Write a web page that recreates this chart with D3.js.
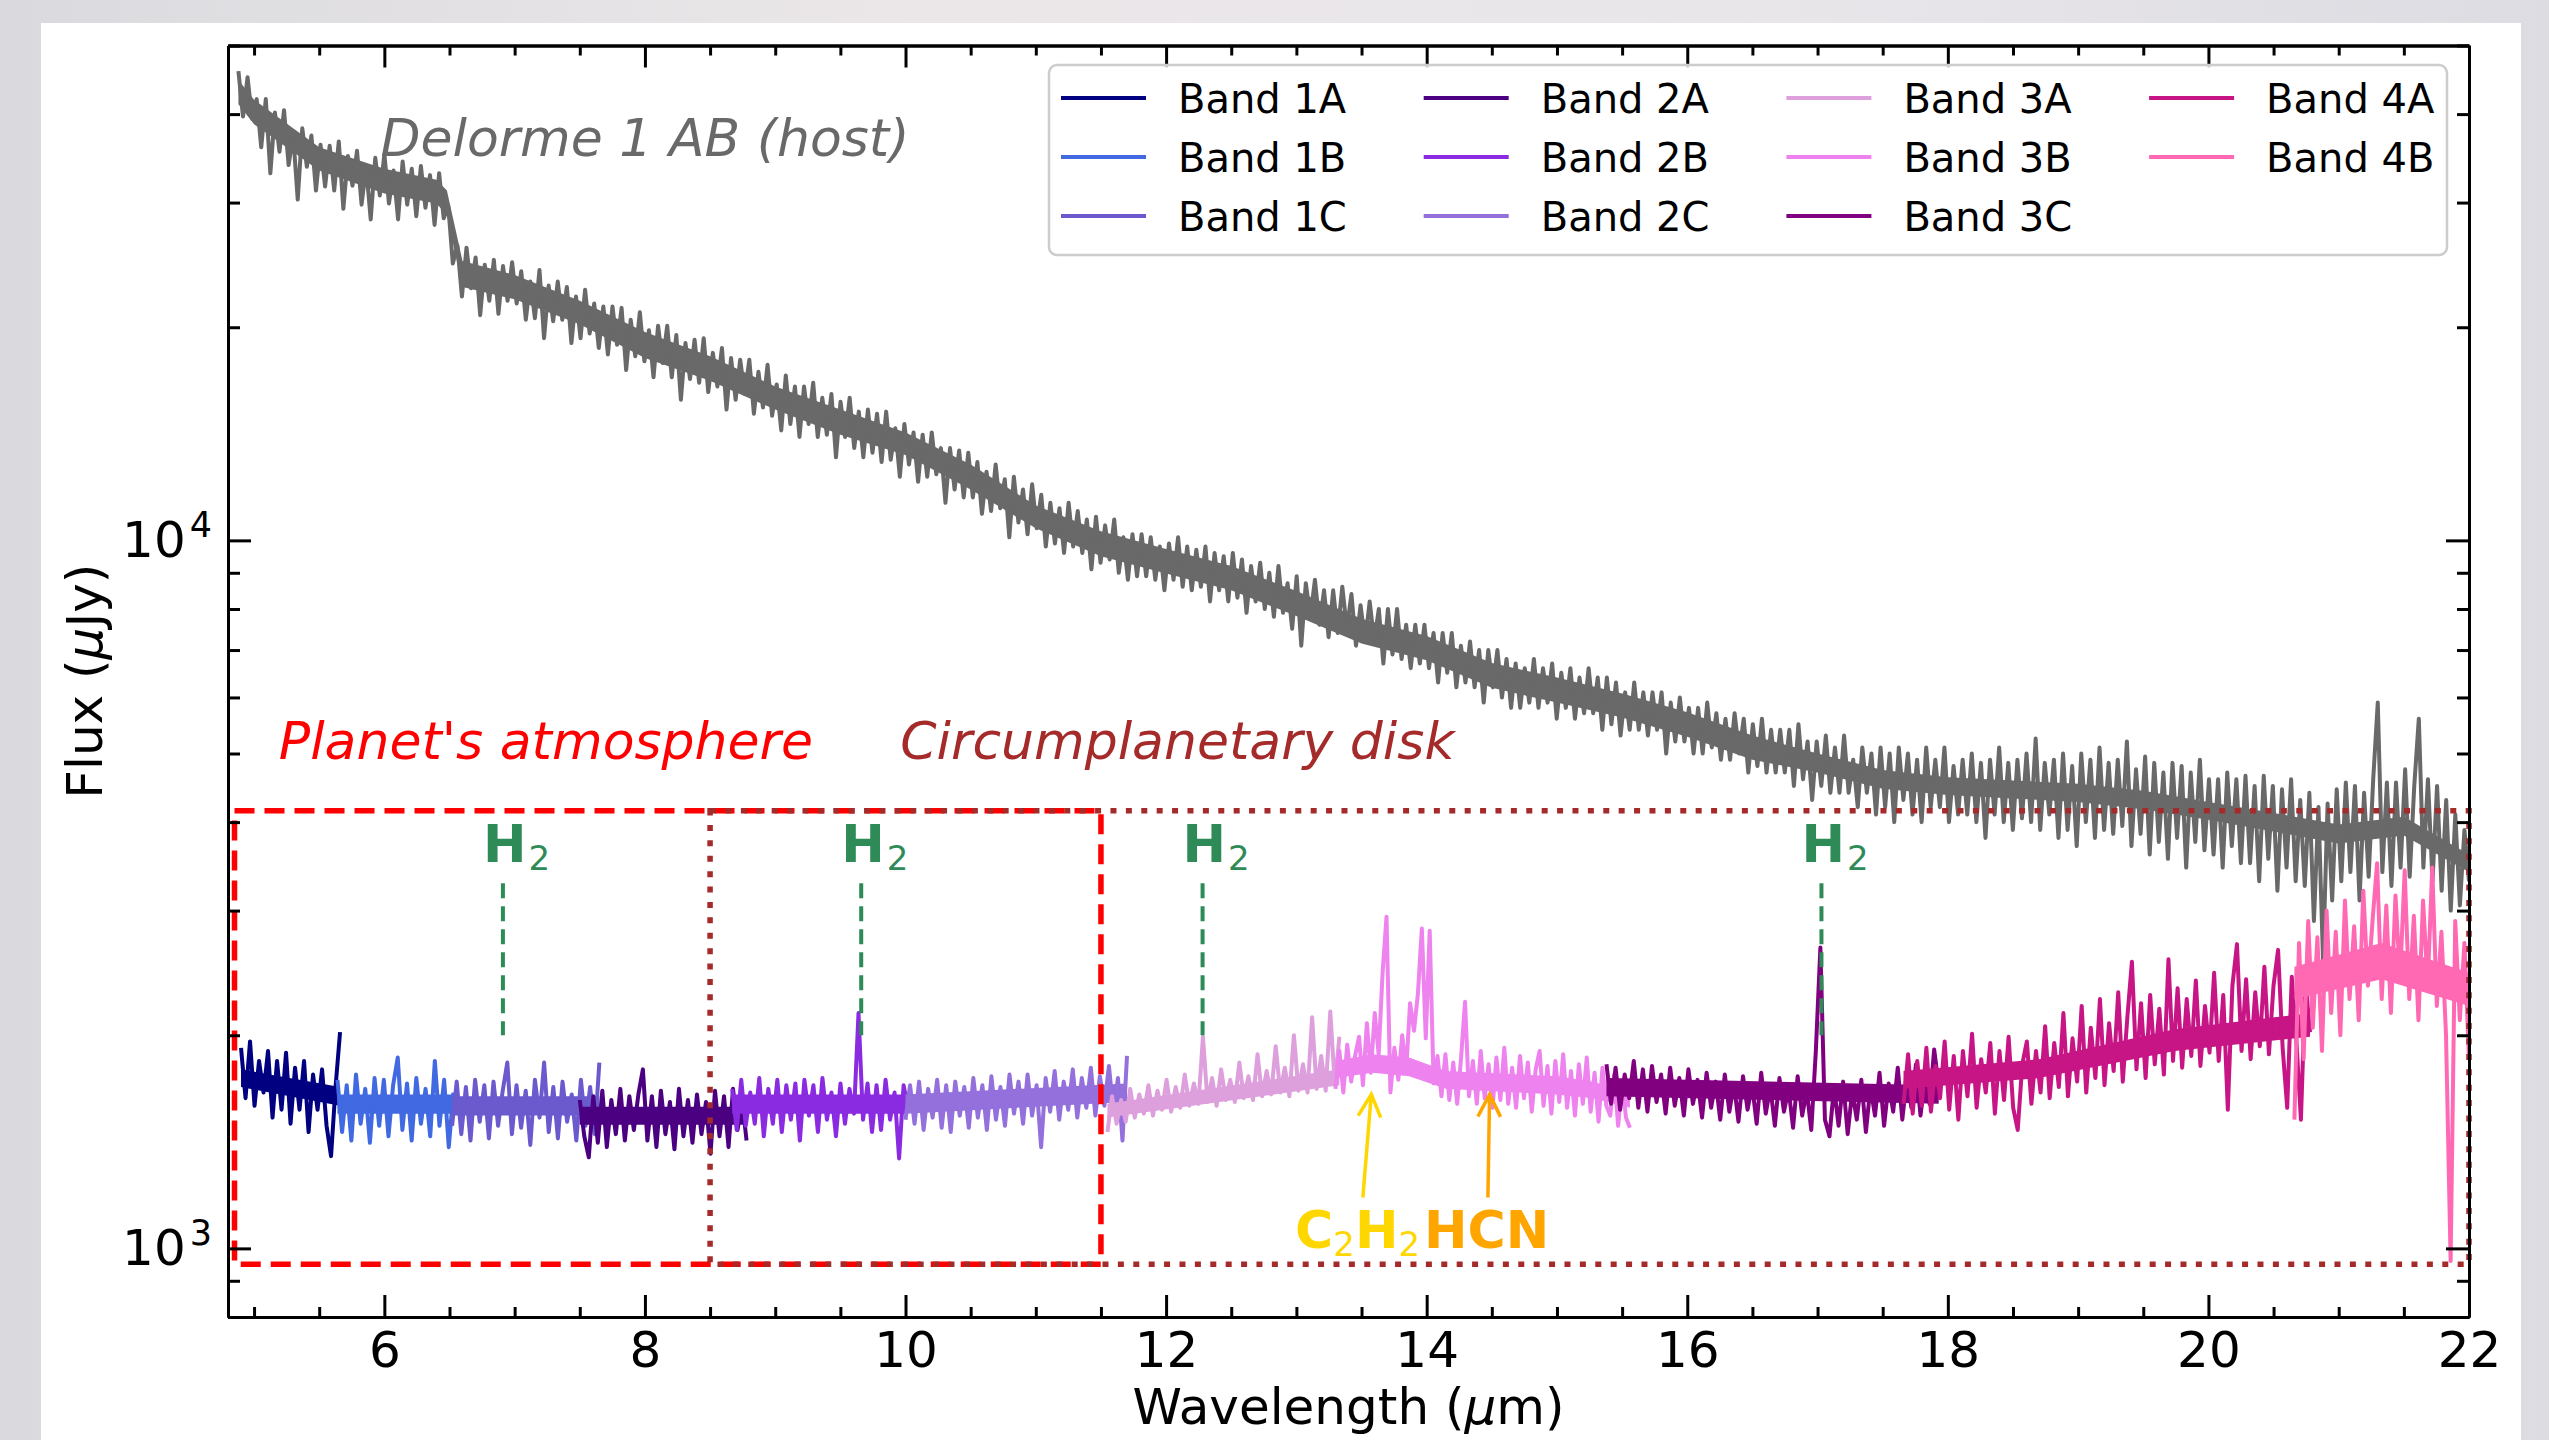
<!DOCTYPE html>
<html>
<head>
<meta charset="utf-8">
<script src="https://cdn.jsdelivr.net/npm/d3@7"></script>
<style>
  body { margin: 0; background: linear-gradient(90deg, #dadade 0%, #ebe7e9 35%, #e9e6ea 70%, #dcdce2 100%); }
  svg { display: block; }
</style>
</head>
<body>
<div id="chart"></div>
<script>

// ---- data ----

// host spectrum, Delorme 1 AB, in mJy, evenly spaced from 4.88 to 22.0 um
const HOST_RANGE = [4.88, 22.0];
const HOST_FLUX_MJY = [
  46.0, 39.7, 45.1, 39.4, 42.0, 35.9, 42.0, 33.0, 40.2, 35.4, 40.5, 33.9, 37.4, 30.3, 38.2, 33.7, 37.3, 31.2, 36.2, 31.6,
  36.1, 31.2, 36.6, 29.4, 34.9, 31.7, 35.5, 29.8, 33.7, 28.4, 34.7, 30.7, 35.1, 29.9, 33.3, 28.4, 34.3, 29.8, 33.5, 28.7,
  33.8, 29.5, 32.8, 27.9, 33.0, 28.5, 29.7, 24.6, 26.1, 22.1, 25.9, 22.7, 25.1, 20.8, 24.5, 21.8, 24.9, 20.9, 24.4, 21.8,
  24.7, 21.6, 24.0, 20.5, 23.2, 20.6, 24.1, 19.3, 22.9, 20.4, 23.2, 20.5, 22.8, 19.0, 22.1, 19.3, 22.6, 19.6, 21.6, 18.7,
  21.4, 18.3, 21.4, 18.9, 21.3, 17.4, 20.5, 18.2, 21.0, 17.9, 19.8, 17.0, 20.1, 17.8, 20.1, 17.0, 19.5, 15.8, 19.0, 16.9,
  19.2, 16.7, 19.3, 16.2, 18.4, 16.5, 18.7, 15.3, 18.1, 15.8, 18.0, 16.1, 18.0, 15.1, 17.3, 15.4, 17.7, 15.0, 16.6, 14.3,
  17.1, 14.6, 16.5, 14.0, 16.5, 14.6, 16.7, 14.0, 15.9, 14.1, 16.1, 13.1, 15.7, 14.0, 15.9, 13.5, 15.2, 13.1, 15.3, 13.3,
  15.1, 12.9, 15.2, 13.0, 14.4, 12.3, 14.6, 12.8, 14.2, 12.1, 14.1, 12.3, 14.2, 12.4, 13.5, 11.3, 13.5, 11.8, 13.4, 11.5,
  13.3, 11.5, 12.9, 10.9, 12.5, 11.0, 12.8, 11.1, 12.2, 10.1, 12.3, 10.6, 11.8, 10.2, 12.0, 10.4, 11.6, 9.8, 11.3, 9.9,
  11.1, 9.6, 11.3, 9.8, 11.0, 9.6, 10.7, 9.1, 10.8, 9.3, 10.5, 9.4, 10.7, 9.0, 10.1, 8.8, 10.2, 8.9, 10.2, 8.9,
  10.1, 8.8, 9.8, 8.5, 9.9, 8.8, 10.1, 8.6, 9.8, 8.5, 9.7, 8.6, 9.8, 8.2, 9.6, 8.5, 9.5, 8.2, 9.6, 8.3,
  9.4, 7.9, 9.2, 8.2, 9.3, 8.0, 9.0, 7.8, 9.2, 7.9, 8.7, 7.5, 8.9, 7.1, 8.7, 7.8, 8.8, 7.6, 8.5, 7.3,
  8.5, 7.4, 8.6, 7.5, 8.4, 7.1, 8.1, 7.2, 8.2, 7.2, 8.0, 6.7, 8.0, 6.9, 8.0, 6.8, 7.6, 6.6, 7.6, 6.7,
  7.6, 6.6, 7.4, 6.3, 7.4, 6.5, 7.4, 6.2, 7.1, 6.3, 7.2, 6.2, 7.0, 5.9, 7.0, 6.2, 7.0, 6.0, 6.8, 5.8,
  6.7, 5.8, 6.6, 5.9, 6.8, 5.8, 6.6, 5.9, 6.7, 5.6, 6.5, 5.8, 6.6, 5.6, 6.4, 5.7, 6.6, 5.7, 6.4, 5.4,
  6.4, 5.5, 6.3, 5.3, 6.1, 5.4, 6.3, 5.4, 6.1, 5.3, 6.1, 5.4, 6.1, 5.0, 5.9, 5.2, 6.0, 5.2, 5.8, 5.0,
  5.8, 5.0, 5.9, 5.1, 5.7, 4.9, 5.6, 4.9, 5.7, 5.0, 5.6, 4.7, 5.5, 4.8, 5.6, 4.7, 5.4, 4.7, 5.4, 4.7,
  5.4, 4.5, 5.5, 4.6, 5.2, 4.3, 5.2, 4.5, 5.3, 4.4, 5.1, 4.4, 5.3, 4.4, 4.9, 4.2, 5.1, 4.4, 5.0, 4.1,
  5.1, 4.2, 5.0, 4.0, 5.1, 4.3, 5.0, 4.1, 4.9, 4.0, 5.1, 4.2, 4.9, 4.2, 5.1, 4.0, 4.8, 4.1, 4.9, 4.1,
  5.0, 4.0, 4.85, 3.8, 4.9, 4.1, 5.1, 4.0, 4.85, 3.9, 4.9, 4.05, 5.0, 4.0, 5.25, 3.9, 4.85, 4.1, 4.9, 3.8,
  5.0, 3.9, 4.8, 3.7, 5.0, 4.0, 4.9, 3.8, 5.1, 3.9, 4.85, 3.85, 4.9, 3.95, 5.2, 3.7, 4.75, 3.85, 4.95, 3.6,
  4.85, 3.75, 4.7, 3.55, 4.85, 3.8, 4.8, 3.45, 4.7, 3.75, 4.9, 3.65, 4.6, 3.6, 4.6, 3.45, 4.7, 3.7, 4.6, 3.5,
  4.65, 3.5, 4.5, 3.3, 4.65, 3.55, 4.5, 3.2, 4.45, 3.45, 4.6, 3.3, 4.3, 3.25, 4.4, 2.9, 4.2, 2.55, 4.25, 3.1,
  4.45, 3.3, 4.55, 3.4, 4.5, 3.1, 4.4, 3.35, 4.6, 5.9, 3.4, 4.55, 3.25, 4.55, 3.45, 4.75, 3.35, 4.5, 5.6, 3.45,
  4.6, 3.3, 4.5, 3.2, 4.3, 3.0, 4.1, 3.05, 3.9, 3.3
];

// solid core of the host noise band (mJy), edges
const HOST_CORE_WAVE = [4.88, 5.0, 5.5, 6.0, 6.4, 6.48, 6.6, 7.0, 7.5, 8.0, 8.5, 9.0, 9.5, 10.0, 10.5, 11.0, 11.5, 12.0,
                        12.5, 13.0, 13.5, 14.0, 14.5, 15.0, 15.5, 16.0, 16.5, 17.0, 17.5, 18.0, 18.5, 19.0, 19.5, 20.0,
                        20.5, 21.0, 21.5, 22.0];
const HOST_CORE_LO = [41.3, 38.7, 33.3, 30.9, 29.9, 28.8, 22.8, 21.9, 20.2, 18.1, 16.8, 15.3, 14.1, 13.2, 11.8, 10.4, 9.5,
                      8.98, 8.5, 7.82, 7.15, 6.77, 6.19, 5.9, 5.62, 5.28, 4.9, 4.7, 4.46, 4.37, 4.32, 4.27, 4.17, 4.03,
                      3.88, 3.73, 3.83, 3.4];
const HOST_CORE_HI = [44.7, 41.9, 35.9, 33.5, 32.3, 31.2, 24.8, 23.7, 21.8, 19.7, 18.2, 16.5, 15.3, 14.2, 12.8, 11.2, 10.3,
                      9.72, 9.2, 8.48, 7.75, 7.33, 6.71, 6.4, 6.08, 5.72, 5.3, 5.0, 4.74, 4.63, 4.58, 4.53, 4.43, 4.27,
                      4.12, 3.97, 4.07, 3.6];

// planet spectrum, one array per MIRI band, in uJy
const BAND_NAMES = ["Band 1A", "Band 1B", "Band 1C", "Band 2A", "Band 2B", "Band 2C",
                    "Band 3A", "Band 3B", "Band 3C", "Band 4A", "Band 4B"];
const BAND_COLORS = ["navy", "royalblue", "slateblue", "indigo", "blueviolet", "mediumpurple",
                     "plum", "violet", "purple", "mediumvioletred", "hotpink"];
const BAND_RANGES = [[4.90, 5.66], [5.64, 6.53], [6.52, 7.65], [7.50, 8.78], [8.67, 10.02], [10.00, 11.70],
                     [11.55, 13.33], [13.30, 15.56], [15.38, 17.93], [17.66, 20.78], [20.66, 22.00]];

const BAND_1A = [1920, 1630, 1960, 1590, 1840, 1660, 1900, 1530, 1840, 1570, 1890, 1500, 1800, 1570, 1840, 1460, 1760, 1570,
                 1790, 1490, 1350, 1690, 2020];
const BAND_1B = [1730, 1460, 1700, 1420, 1760, 1500, 1680, 1410, 1740, 1490, 1730, 1440, 1700, 1860, 1470, 1710, 1420, 1740,
                 1500, 1680, 1440, 1840, 1490, 1730, 1390, 1660];
const BAND_1C = [1490, 1720, 1450, 1690, 1420, 1730, 1510, 1700, 1430, 1720, 1490, 1670, 1830, 1450, 1700, 1480, 1670, 1400,
                 1730, 1530, 1830, 1460, 1690, 1430, 1720, 1510, 1650, 1420, 1730, 1490, 1690, 1450, 1830];
const BAND_2A = [1620, 1440, 1345, 1640, 1410, 1670, 1390, 1620, 1450, 1680, 1420, 1640, 1470, 1650, 1790, 1420, 1640, 1390,
                 1670, 1450, 1610, 1380, 1680, 1440, 1620, 1410, 1650, 1450, 1610, 1360, 1670, 1440, 1640, 1390, 1680, 1470,
                 1620, 1420];
const BAND_2B = [1680, 1470, 1730, 1490, 1660, 1500, 1740, 1440, 1680, 1500, 1730, 1460, 1700, 1520, 1710, 1420, 1730, 1540,
                 1700, 1460, 1740, 1520, 1660, 1440, 1710, 1500, 1680, 1550, 2150, 1520, 1710, 1460, 1700, 1470, 1730, 1520,
                 1660, 1340, 1700, 1570];
const BAND_2C = [1520, 1700, 1500, 1720, 1470, 1680, 1530, 1730, 1480, 1700, 1460, 1720, 1540, 1690, 1480, 1740, 1530, 1700,
                 1470, 1750, 1520, 1690, 1490, 1760, 1550, 1720, 1500, 1760, 1540, 1700, 1390, 1740, 1560, 1780, 1520, 1720,
                 1570, 1790, 1530, 1740, 1580, 1800, 1540, 1750, 1590, 1810, 1560, 1740, 1420, 1870];
const BAND_3A = [1460, 1640, 1500, 1620, 1510, 1680, 1530, 1650, 1550, 1700, 1540, 1670, 1570, 1730, 1560, 1690, 1580, 1760,
                 1590, 1710, 1600, 1990, 1610, 1740, 1590, 1790, 1620, 1730, 1610, 1830, 1630, 1750, 1620, 1880, 1640, 1780,
                 1650, 1930, 1660, 1800, 1640, 2000, 1670, 1820, 1660, 2120, 1680, 1870, 1670, 2160, 1700, 1990];
const BAND_3B = [1680, 1900, 1660, 1940, 1720, 1870, 1990, 1700, 2080, 1770, 2150, 1880, 2450, 2940, 1660, 1920, 1730, 2000,
                 1780, 2220, 2030, 2290, 2830, 1980, 2810, 1710, 1870, 1640, 1880, 1620, 1830, 1600, 1860, 2230, 1640, 1840,
                 1600, 1900, 1630, 1820, 1580, 1860, 1620, 1920, 1600, 1800, 1580, 1870, 1630, 1830, 1560, 1790, 1900, 1590,
                 1810, 1550, 1840, 1610, 1880, 1580, 1780, 1540, 1820, 1600, 1860, 1560, 1770, 1510, 1800, 1590, 1540, 1760,
                 1490, 1720, 1530, 1480];
const BAND_3C = [1820, 1600, 1800, 1570, 1760, 1630, 1840, 1580, 1790, 1560, 1810, 1610, 1760, 1550, 1800, 1590, 1740, 1540,
                 1790, 1600, 1730, 1530, 1770, 1580, 1720, 1520, 1760, 1560, 1710, 1510, 1750, 1570, 1700, 1500, 1770, 1550,
                 1690, 1490, 1740, 1560, 1680, 1480, 1750, 1540, 1670, 1470, 1900, 2660, 1520, 1440, 1690, 1490, 1720, 1450,
                 1670, 1520, 1730, 1460, 1690, 1540, 1770, 1490, 1710, 1560, 1800, 1520, 1740, 1580, 1820, 1540, 1750, 1600,
                 1910, 1700];
const BAND_4A = [1600, 1880, 1550, 1840, 1590, 1920, 1560, 1810, 1630, 1960, 1570, 1870, 1520, 1900, 1640, 2010, 1580, 1850,
                 1660, 1950, 1550, 1900, 1620, 1990, 1580, 1470, 1820, 1960, 1600, 1900, 1660, 2060, 1630, 1950, 1690, 2150,
                 1640, 1980, 1720, 2200, 1660, 2050, 1740, 2250, 1700, 2080, 1780, 2300, 1720, 2120, 2540, 1790, 2220, 1740,
                 2280, 1820, 2180, 1760, 2560, 1840, 2330, 1800, 2250, 1870, 2390, 1810, 2200, 1890, 2450, 1840, 2280, 1570,
                 2350, 2690, 1900, 2400, 1850, 2300, 1930, 2500, 1880, 2350, 2640, 1920, 1580, 2420, 1970, 1520, 2380, 2020];
const BAND_4B = [1520, 2700, 1850, 2900, 2050, 2750, 1900, 3000, 2150, 2800, 2000, 3100, 2250, 2850, 2100, 3200, 2350, 2900,
                 3500, 2250, 3050, 2150, 3150, 2400, 3420, 2250, 2950, 2100, 3100, 2350, 3450, 2200, 2800, 2000, 960, 2900,
                 2100, 2700, 1850];
const BAND_FLUX = [BAND_1A, BAND_1B, BAND_1C, BAND_2A, BAND_2B, BAND_2C, BAND_3A, BAND_3B, BAND_3C, BAND_4A, BAND_4B];

// solid core of each band's noise, [low, high] in uJy, spread evenly over the band
const CORE_1A = [[1690, 1790], [1590, 1690]];
const CORE_1B = [[1550, 1650], [1550, 1650]];
const CORE_1C = [[1540, 1640], [1540, 1640]];
const CORE_2A = [[1495, 1585], [1495, 1585]];
const CORE_2B = [[1550, 1650], [1550, 1650]];
const CORE_2C = [[1550, 1650], [1610, 1710]];
const CORE_3A = [[1530, 1600], [1700, 1790]];
const CORE_3B = [[1740, 1840], [1770, 1880], [1750, 1860], [1680, 1780], [1670, 1770], [1660, 1760], [1650, 1750],
                 [1630, 1720], [1580, 1660]];
const CORE_3C = [[1640, 1740], [1600, 1700]];
const CORE_4A = [[1680, 1780], [1740, 1850], [1900, 2040], [1990, 2150]];
const CORE_4B = [[2250, 2500], [2400, 2700], [2200, 2450]];
const BAND_CORES = [CORE_1A, CORE_1B, CORE_1C, CORE_2A, CORE_2B, CORE_2C, CORE_3A, CORE_3B, CORE_3C, CORE_4A, CORE_4B];

// H2 emission lines (um)
const H2_LINES = [6.91, 9.66, 12.28, 17.03];

// axes
const X_DOMAIN = [4.8, 22];
const Y_DOMAIN = [800, 50000];
const X_TICKS = [6, 8, 10, 12, 14, 16, 18, 20, 22];
const Y_TICKS = [1e3, 1e4];
const Y_MINOR = [800, 900, 2000, 3000, 4000, 5000, 6000, 7000, 8000, 9000, 20000, 30000, 40000, 50000];

// regions: planet atmosphere box and circumplanetary disk box
const ATMOS_BOX = [4.85, 11.5];
const DISK_BOX = [8.5, 22];
const BOX_FLUX = [950, 4150];


// ---- frame ----
const FRAME_WIDTH = 2549;
const FRAME_HEIGHT = 1440;
const MARGINS = {left: 228, right: 80, top: 45.5, bottom: 123};
const VIS_WIDTH = FRAME_WIDTH - MARGINS.left - MARGINS.right;
const VIS_HEIGHT = FRAME_HEIGHT - MARGINS.top - MARGINS.bottom;

const FRAME = d3.select("#chart")
  .append("svg")
    .attr("width", FRAME_WIDTH)
    .attr("height", FRAME_HEIGHT)
    .style("font-family", "'DejaVu Sans', sans-serif");

// white panel the figure sits on
FRAME.append("rect")
  .attr("x", 41).attr("y", 23)
  .attr("width", 2480).attr("height", FRAME_HEIGHT - 23)
  .attr("fill", "white");

const X_SCALE = d3.scaleLinear()
  .domain(X_DOMAIN)
  .range([MARGINS.left, MARGINS.left + VIS_WIDTH]);

const Y_SCALE = d3.scaleLog()
  .domain(Y_DOMAIN)
  .range([MARGINS.top + VIS_HEIGHT, MARGINS.top]);

// spread a band's values evenly over its wavelength range
function toPoints(range, values, unit) {
  const n = values.length;
  return values.map((v, i) => [range[0] + i * (range[1] - range[0]) / (n - 1), v * unit]);
}

const LINE = d3.line()
  .x((d) => X_SCALE(d[0]))
  .y((d) => Y_SCALE(d[1]));

const CORE_AREA = d3.area()
  .x((d) => X_SCALE(d[0]))
  .y0((d) => Y_SCALE(d[1]))
  .y1((d) => Y_SCALE(d[2]));


// ---- spectra ----
FRAME.append("path")
  .datum(HOST_CORE_WAVE.map((w, i) => [w, HOST_CORE_LO[i] * 1000, HOST_CORE_HI[i] * 1000]))
  .attr("d", CORE_AREA)
  .attr("fill", "dimgray");

FRAME.append("path")
  .datum(toPoints(HOST_RANGE, HOST_FLUX_MJY, 1000))
  .attr("d", LINE)
  .attr("fill", "none")
  .attr("stroke", "dimgray")
  .attr("stroke-width", 4)
  .attr("stroke-linejoin", "round");

BAND_FLUX.forEach((vals, i) => {
  const range = BAND_RANGES[i];
  const core = BAND_CORES[i];
  FRAME.append("path")
    .datum(core.map((c, j) => [range[0] + j * (range[1] - range[0]) / (core.length - 1), c[0], c[1]]))
    .attr("d", CORE_AREA)
    .attr("fill", BAND_COLORS[i]);

  FRAME.append("path")
    .datum(toPoints(range, vals, 1))
    .attr("d", LINE)
    .attr("fill", "none")
    .attr("stroke", BAND_COLORS[i])
    .attr("stroke-width", 4)
    .attr("stroke-linejoin", "round");
});


// ---- region boxes ----
function drawBox(xr, color, dash) {
  FRAME.append("rect")
    .attr("x", X_SCALE(xr[0]))
    .attr("y", Y_SCALE(BOX_FLUX[1]))
    .attr("width", X_SCALE(xr[1]) - X_SCALE(xr[0]))
    .attr("height", Y_SCALE(BOX_FLUX[0]) - Y_SCALE(BOX_FLUX[1]))
    .attr("fill", "none")
    .attr("stroke", color)
    .attr("stroke-width", 5.5)
    .attr("stroke-dasharray", dash);
}
drawBox(ATMOS_BOX, "red", "20,10");
drawBox(DISK_BOX, "brown", "6,9.4");


// ---- H2 markers ----
H2_LINES.forEach((w) => {
  FRAME.append("line")
    .attr("x1", X_SCALE(w)).attr("x2", X_SCALE(w))
    .attr("y1", Y_SCALE(3280)).attr("y2", Y_SCALE(2000))
    .attr("stroke", "seagreen")
    .attr("stroke-width", 4)
    .attr("stroke-dasharray", "15,8");

  const t = FRAME.append("text")
    .attr("x", X_SCALE(w) - 20)
    .attr("y", Y_SCALE(3515))
    .attr("fill", "seagreen")
    .attr("font-size", 52);
  t.append("tspan").attr("font-weight", "bold").text("H");
  t.append("tspan").attr("font-size", 34).attr("dy", 8).attr("dx", 2).text("2");
});


// ---- molecule labels and arrows ----
function drawArrow(from, to, color) {
  const x1 = X_SCALE(from[0]), y1 = Y_SCALE(from[1]);
  const x2 = X_SCALE(to[0]), y2 = Y_SCALE(to[1]);
  const ang = Math.atan2(y2 - y1, x2 - x1);
  const len = 25, spread = 0.47;
  const a = [x2 - len * Math.cos(ang - spread), y2 - len * Math.sin(ang - spread)];
  const b = [x2 - len * Math.cos(ang + spread), y2 - len * Math.sin(ang + spread)];
  FRAME.append("path")
    .attr("d", `M${x1},${y1}L${x2},${y2}M${a[0]},${a[1]}L${x2},${y2}L${b[0]},${b[1]}`)
    .attr("fill", "none")
    .attr("stroke", color)
    .attr("stroke-width", 3.5)
    .attr("stroke-linejoin", "miter");
}
drawArrow([13.51, 1180], [13.575, 1650], "gold");
drawArrow([14.47, 1180], [14.483, 1650], "orange");

const C2H2 = FRAME.append("text")
  .attr("x", X_SCALE(12.99))
  .attr("y", Y_SCALE(1000))
  .attr("fill", "gold")
  .attr("font-size", 52)
  .attr("font-weight", "bold");
C2H2.append("tspan").text("C");
C2H2.append("tspan").attr("font-size", 34).attr("font-weight", "normal").attr("dy", 8).text("2");
C2H2.append("tspan").attr("dy", -8).text("H");
C2H2.append("tspan").attr("font-size", 34).attr("font-weight", "normal").attr("dy", 8).text("2");

FRAME.append("text")
  .attr("x", X_SCALE(13.98))
  .attr("y", Y_SCALE(1000))
  .attr("fill", "orange")
  .attr("font-size", 52)
  .attr("font-weight", "bold")
  .text("HCN");


// ---- region and source labels ----
FRAME.append("text")
  .attr("x", X_SCALE(5.97)).attr("y", Y_SCALE(34900))
  .attr("font-size", 52).attr("font-style", "italic")
  .attr("fill", "dimgray")
  .text("Delorme 1 AB (host)");

FRAME.append("text")
  .attr("x", X_SCALE(5.19)).attr("y", Y_SCALE(4910))
  .attr("font-size", 52).attr("font-style", "italic")
  .attr("fill", "red")
  .text("Planet's atmosphere");

FRAME.append("text")
  .attr("x", X_SCALE(9.96)).attr("y", Y_SCALE(4910))
  .attr("font-size", 52).attr("font-style", "italic")
  .attr("fill", "brown")
  .text("Circumplanetary disk");


// ---- axes ----
function styleAxis(g) {
  g.attr("font-size", 50).attr("font-family", "'DejaVu Sans', sans-serif");
  g.selectAll("line").attr("stroke", "black").attr("stroke-width", 3);
  g.select(".domain").attr("stroke", "black").attr("stroke-width", 3);
  g.selectAll("text").attr("fill", "black");
}

const X_MINOR = d3.range(5, 22, 0.5).filter((v) => !X_TICKS.includes(v));

// bottom
FRAME.append("g")
  .attr("transform", "translate(0," + (MARGINS.top + VIS_HEIGHT) + ")")
  .call(d3.axisBottom(X_SCALE).tickValues(X_MINOR).tickSize(-10).tickSizeOuter(0).tickFormat(""))
  .call(styleAxis);
FRAME.append("g")
  .attr("transform", "translate(0," + (MARGINS.top + VIS_HEIGHT) + ")")
  .call(d3.axisBottom(X_SCALE).tickValues(X_TICKS).tickSize(-22).tickSizeOuter(0).tickPadding(14))
  .call(styleAxis);

// top
FRAME.append("g")
  .attr("transform", "translate(0," + MARGINS.top + ")")
  .call(d3.axisTop(X_SCALE).tickValues(X_MINOR).tickSize(-10).tickSizeOuter(0).tickFormat(""))
  .call(styleAxis);
FRAME.append("g")
  .attr("transform", "translate(0," + MARGINS.top + ")")
  .call(d3.axisTop(X_SCALE).tickValues(X_TICKS).tickSize(-22).tickSizeOuter(0).tickFormat(""))
  .call(styleAxis);

// left
FRAME.append("g")
  .attr("transform", "translate(" + MARGINS.left + ",0)")
  .call(d3.axisLeft(Y_SCALE).tickValues(Y_MINOR).tickSize(-12).tickSizeOuter(0).tickFormat(""))
  .call(styleAxis);
const Y_AXIS = FRAME.append("g")
  .attr("transform", "translate(" + MARGINS.left + ",0)")
  .call(d3.axisLeft(Y_SCALE).tickValues(Y_TICKS).tickSize(-23).tickSizeOuter(0).tickPadding(16).tickFormat(""))
  .call(styleAxis);
Y_AXIS.selectAll(".tick text").each(function(d) {
  const t = d3.select(this);
  t.append("tspan").text("10");
  t.append("tspan").attr("font-size", 35).attr("dx", 4).attr("dy", -20).text(Math.round(Math.log10(d)));
});

// right
FRAME.append("g")
  .attr("transform", "translate(" + (MARGINS.left + VIS_WIDTH) + ",0)")
  .call(d3.axisRight(Y_SCALE).tickValues(Y_MINOR).tickSize(-12).tickSizeOuter(0).tickFormat(""))
  .call(styleAxis);
FRAME.append("g")
  .attr("transform", "translate(" + (MARGINS.left + VIS_WIDTH) + ",0)")
  .call(d3.axisRight(Y_SCALE).tickValues(Y_TICKS).tickSize(-23).tickSizeOuter(0).tickFormat(""))
  .call(styleAxis);

// axis titles
const X_TITLE = FRAME.append("text")
  .attr("x", MARGINS.left + VIS_WIDTH / 2)
  .attr("y", 1424)
  .attr("text-anchor", "middle")
  .attr("font-size", 50);
X_TITLE.append("tspan").text("Wavelength (");
X_TITLE.append("tspan").attr("font-style", "italic").text("\u03bc");
X_TITLE.append("tspan").text("m)");

const Y_TITLE = FRAME.append("text")
  .attr("transform", "translate(102," + (MARGINS.top + VIS_HEIGHT / 2) + ") rotate(-90)")
  .attr("text-anchor", "middle")
  .attr("font-size", 50);
Y_TITLE.append("tspan").text("Flux (");
Y_TITLE.append("tspan").attr("font-style", "italic").text("\u03bc");
Y_TITLE.append("tspan").text("Jy)");


// ---- legend ----
const LEGEND = FRAME.append("g").attr("transform", "translate(1049,65)");
LEGEND.append("rect")
  .attr("width", 1398).attr("height", 190)
  .attr("rx", 8).attr("ry", 8)
  .attr("fill", "white").attr("fill-opacity", 0.8)
  .attr("stroke", "#cccccc").attr("stroke-width", 2.5);

BAND_NAMES.forEach((name, i) => {
  const col = Math.floor(i / 3), row = i % 3;
  const gx = 12 + col * 362.7, gy = 33 + row * 59;
  LEGEND.append("line")
    .attr("x1", gx).attr("x2", gx + 85)
    .attr("y1", gy).attr("y2", gy)
    .attr("stroke", BAND_COLORS[i])
    .attr("stroke-width", 4);
  LEGEND.append("text")
    .attr("x", gx + 117).attr("y", gy + 14.5)
    .attr("font-size", 40)
    .attr("fill", "black")
    .text(name);
});

</script>
</body>
</html>
